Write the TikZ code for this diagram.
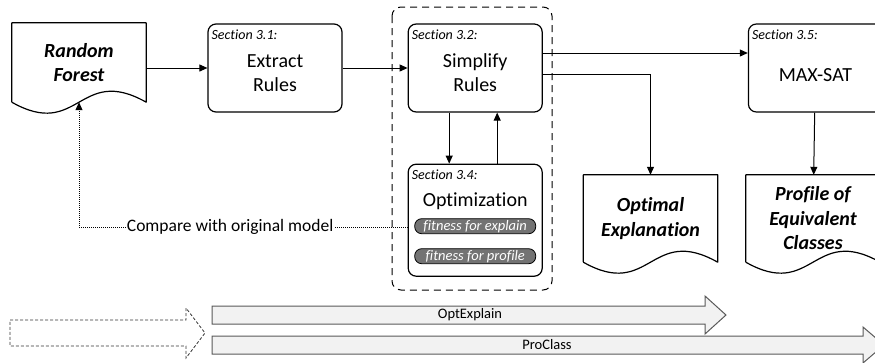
\documentclass[tikz,border=0pt]{standalone}
\usepackage{fontspec}
\setmainfont{Carlito}[Ligatures=NoCommon]
\usetikzlibrary{arrows.meta, positioning, calc}

% outline of a document shape (wavy bottom edge)
\newcommand{\docwave}[1]{%
  \draw[docline] (#1.south west) -- (#1.north west) -- (#1.north east) -- (#1.south east)
    .. controls ($(#1.south)+(0,38pt)$) and ($(#1.south)+(0,-38pt)$) .. (#1.south west);}

\begin{document}
\begin{tikzpicture}[
    x=1pt, y=-1pt,
    stage/.style={rectangle, draw, line width=1.2pt, rounded corners=8pt, minimum width=134pt, minimum height=88pt},
    main/.style={font=\fontsize{20}{24}\selectfont, align=center},
    sec/.style={font=\fontsize{14}{16}\selectfont\itshape, anchor=north west, inner sep=1pt, xshift=3pt, yshift=-5pt},
    doc/.style={rectangle, minimum width=134pt, align=center, font=\fontsize{20}{24.5}\selectfont\bfseries\itshape},
    docline/.style={line width=1.2pt, line join=round},
    pill/.style={rectangle, draw, line width=0.8pt, rounded corners=7pt, fill=black!55, text=white, minimum width=121pt, minimum height=15pt, inner sep=0pt, font=\fontsize{14.5}{16}\selectfont\itshape},
    arrow/.style={-{Triangle[length=8pt,width=7pt]}, line width=1pt},
    compare/.style={-{Triangle[length=8pt,width=7pt]}, line width=1pt, dash pattern=on 1pt off 1pt},
    group/.style={draw, line width=1pt, rounded corners=9pt, dash pattern=on 7pt off 5pt},
    track/.style={draw=black!65, fill=black!5, line width=1pt, line join=miter},
    ghost/.style={draw=black!80, line width=0.8pt, dash pattern=on 3pt off 2pt}
]
\useasboundingbox (0,0) rectangle (875,362);

% Group around simplification and optimisation
\draw[group] (392,7) rectangle (552,290);

% Nodes
\node[doc, minimum height=79pt] (forest) at (79,62.5) {Random\\Forest};
\node[stage, label={[main, yshift=-5pt]center:{Extract\\Rules}}, label={[sec]north west:{Section 3.1:}}] (extract) at (275,68) {};
\node[stage, right=65pt of extract, label={[main, yshift=-5pt]center:{Simplify\\Rules}}, label={[sec]north west:{Section 3.2:}}] (simplify) {};
\node[stage, right=205pt of simplify, label={[main, yshift=-7pt]center:{MAX-SAT}}, label={[sec]north west:{Section 3.5:}}] (maxsat) {};
\node[stage, below=51pt of simplify, minimum height=112pt, label={[main, yshift=19pt]center:{Optimization}}, label={[sec]north west:{Section 3.4:}}] (optim) {};
\node[pill] (fitexp) at ([yshift=-6pt]optim.center) {fitness for explain};
\node[pill] (fitpro) at ([yshift=-36pt]optim.center) {fitness for profile};
\node[doc, minimum height=87pt] (optexp) at (650.5,218.5) {Optimal\\Explanation};
\node[doc, minimum height=87pt] (profile) at (813,218.5) {Profile of\\Equivalent\\Classes};

\docwave{forest}
\docwave{optexp}
\docwave{profile}

% Arrows
\coordinate (simpout) at ([yshift=15pt]simplify.east);
\coordinate (cmpstart) at ([yshift=-7pt]optim.west);
\draw[arrow] (forest.east |- extract.west) -- (extract.west);
\draw[arrow] (extract) -- (simplify);
\draw[arrow] (simpout) -- (maxsat.west |- simpout);
\draw[arrow] ([yshift=-6pt]simplify.east) -| (optexp.north);
\draw[arrow] ([xshift=-26pt]simplify.south) -- ([xshift=-26pt]optim.north);
\draw[arrow] ([xshift=22pt]optim.north) -- ([xshift=22pt]simplify.south);
\draw[arrow] (maxsat) -- (profile);
\draw[compare] (cmpstart) -| (forest.south)
  node[pos=0.27, fill=white, inner sep=1pt, font=\fontsize{17.5}{20}\selectfont] {Compare with original model};

% Pipelines
\draw[ghost] (10,320) -- (186,320) -- (186,308) -- (205,333) -- (186,358) -- (186,346) -- (10,346) -- cycle;
\draw[track] (212,306) -- (705,306) -- (705,296) -- (726,315) -- (705,334) -- (705,324) -- (212,324) -- cycle;
\draw[track] (212,336) -- (863,336) -- (863,327) -- (884,345) -- (863,363) -- (863,354) -- (212,354) -- cycle;
\node[font=\fontsize{14.5}{16}\selectfont] (optexplain) at (470,315) {OptExplain};
\node[font=\fontsize{14.5}{16}\selectfont] (proclass) at (547,345) {ProClass};

\end{tikzpicture}
\end{document}
